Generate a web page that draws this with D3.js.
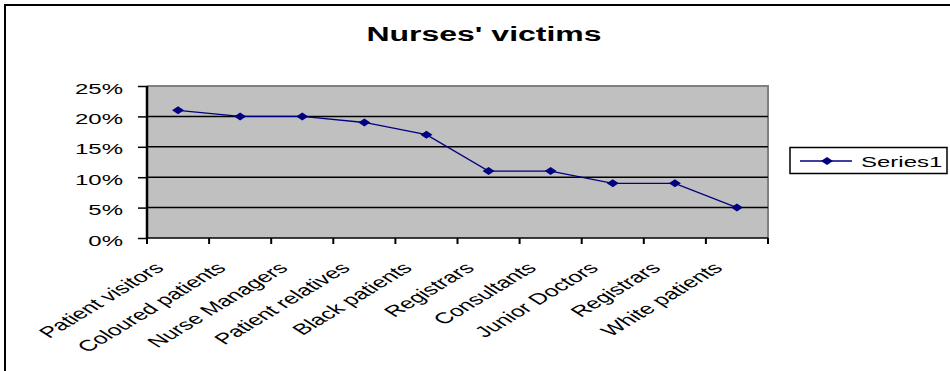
<!DOCTYPE html>
<html>
<head>
<meta charset="utf-8">
<script src="https://cdn.jsdelivr.net/npm/d3@7"></script>
<style>
  html, body { margin: 0; padding: 0; background: #fff; }
  svg { display: block; font-family: "Liberation Sans", Arial, sans-serif; }
</style>
</head>
<body>
<svg id="chart" width="950" height="371"></svg>
<script>
const categories = ["Patient visitors", "Coloured patients", "Nurse Managers", "Patient relatives",
  "Black patients", "Registrars", "Consultants", "Junior Doctors", "Registrars", "White patients"];
const seriesName = "Series1";
const values = [0.21, 0.20, 0.20, 0.19, 0.17, 0.11, 0.11, 0.09, 0.09, 0.05];
const yTicks = [0, 0.05, 0.10, 0.15, 0.20, 0.25];

// the chart is drawn horizontally widened; text is stretched to suit
const SX = 1.6;

const svg = d3.select("#chart");

// outer chart frame
svg.append("rect")
  .attr("x", 5).attr("y", 5)
  .attr("width", 960).attr("height", 400)
  .attr("fill", "#fff").attr("stroke", "#000").attr("stroke-width", 2);

const plot = { left: 147, right: 768, top: 86, bottom: 238 };

const x = d3.scaleBand()
  .domain(d3.range(categories.length))
  .range([plot.left, plot.right]);
const y = d3.scaleLinear().domain([0, 0.25]).range([plot.bottom, plot.top]);

// plot area
svg.append("rect")
  .attr("x", plot.left).attr("y", plot.top)
  .attr("width", plot.right - plot.left).attr("height", plot.bottom - plot.top)
  .attr("fill", "#c0c0c0");
svg.append("path")
  .attr("d", `M${plot.left},${plot.top}H${plot.right}V${plot.bottom}`)
  .attr("fill", "none").attr("stroke", "#808080").attr("stroke-width", 2);

// horizontal gridlines
svg.append("g").selectAll("line")
  .data(yTicks.filter(d => d > 0 && d < 0.25))
  .join("line")
  .attr("x1", plot.left).attr("x2", plot.right)
  .attr("y1", d => y(d)).attr("y2", d => y(d))
  .attr("stroke", "#000").attr("stroke-width", 1.5);

// y axis
const yAxis = d3.axisLeft(y).tickValues(yTicks).tickFormat(d3.format(".0%")).tickSize(9).tickPadding(0);
const gy = svg.append("g").attr("transform", `translate(${plot.left},0)`).call(yAxis);
gy.select(".domain").remove();
gy.selectAll(".tick line").attr("stroke", "#000").attr("stroke-width", 1.5);
gy.selectAll(".tick text").remove();
gy.selectAll(".tick").append("text")
  .attr("transform", `translate(-24,7) scale(${SX},1)`)
  .attr("text-anchor", "end")
  .attr("font-size", 15)
  .attr("fill", "#000")
  .attr("font-family", "Liberation Sans, Arial, sans-serif")
  .text(d3.format(".0%"));
svg.append("line")
  .attr("x1", plot.left).attr("x2", plot.left)
  .attr("y1", plot.top).attr("y2", plot.bottom + 1)
  .attr("stroke", "#000").attr("stroke-width", 2.5);

// x axis: ticks at category boundaries
const boundaries = d3.range(categories.length + 1).map(i => plot.left + i * x.bandwidth());
svg.append("line")
  .attr("x1", plot.left).attr("x2", plot.right)
  .attr("y1", plot.bottom).attr("y2", plot.bottom)
  .attr("stroke", "#000").attr("stroke-width", 1.5);
svg.append("g").selectAll("line")
  .data(boundaries)
  .join("line")
  .attr("x1", d => d).attr("x2", d => d)
  .attr("y1", plot.bottom).attr("y2", plot.bottom + 6)
  .attr("stroke", "#000").attr("stroke-width", 2);

svg.append("g").selectAll("text")
  .data(categories)
  .join("text")
  .attr("transform", (d, i) => `translate(${x(i) + x.bandwidth() / 2 - 13},${plot.bottom + 31}) scale(${SX},1) rotate(-44)`)
  .attr("text-anchor", "end")
  .attr("font-size", 15.5)
  .attr("fill", "#000")
  .text(d => d);

// series line + diamond markers
const cx = i => x(i) + x.bandwidth() / 2;
svg.append("path")
  .datum(values)
  .attr("d", d3.line().x((d, i) => cx(i)).y(d => y(d)))
  .attr("fill", "none").attr("stroke", "#000080").attr("stroke-width", 1.3);

const diamond = "M-6,0L0,-4L6,0L0,4Z";
svg.append("g").selectAll("path")
  .data(values)
  .join("path")
  .attr("transform", (d, i) => `translate(${cx(i)},${y(d)})`)
  .attr("d", diamond)
  .attr("fill", "#000080");

// title
svg.append("text")
  .attr("transform", `translate(484,41) scale(${SX},1)`)
  .attr("text-anchor", "middle")
  .attr("font-size", 20).attr("font-weight", "bold")
  .text("Nurses' victims");

// legend
const lg = svg.append("g");
lg.append("rect")
  .attr("x", 790).attr("y", 147.5).attr("width", 157).attr("height", 26)
  .attr("fill", "#fff").attr("stroke", "#000").attr("stroke-width", 1.5);
lg.append("line")
  .attr("x1", 800).attr("x2", 852).attr("y1", 161).attr("y2", 161)
  .attr("stroke", "#000080").attr("stroke-width", 1.3);
lg.append("path")
  .attr("transform", "translate(827,161)")
  .attr("d", diamond).attr("fill", "#000080");
lg.append("text")
  .attr("transform", `translate(861,167) scale(${SX},1)`)
  .attr("font-size", 15).attr("fill", "#000")
  .text(seriesName);
</script>
</body>
</html>
